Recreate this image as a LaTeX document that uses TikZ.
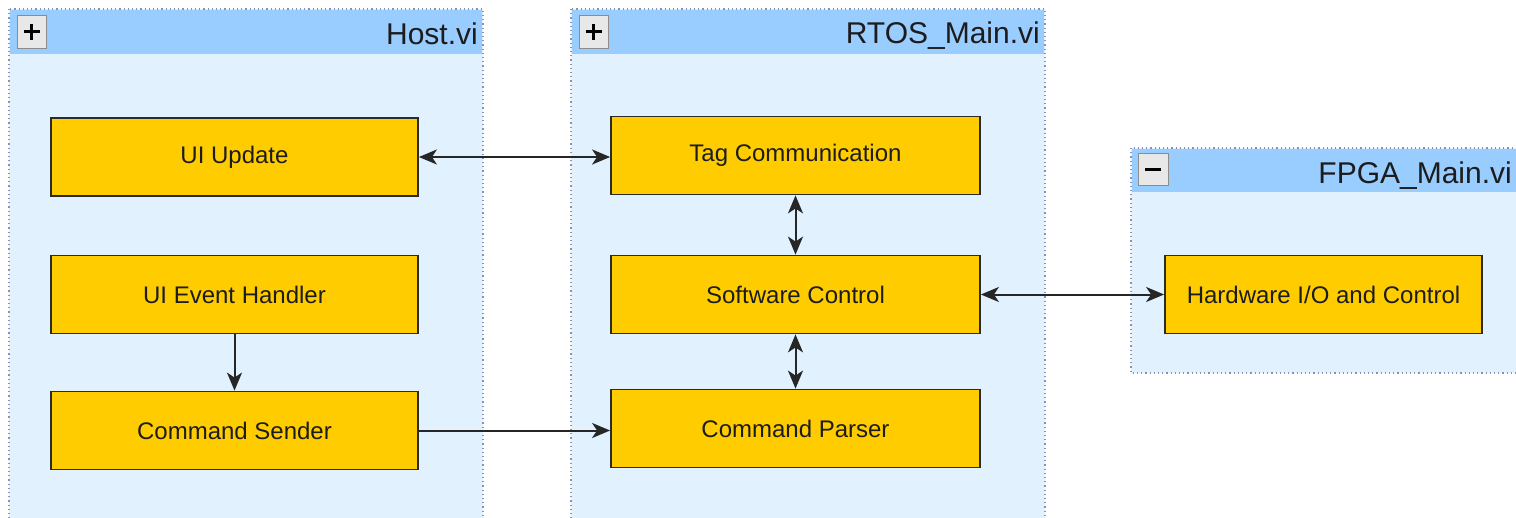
\documentclass[tikz,border=0pt]{standalone}
\usepackage{fontspec}
\setmainfont{Liberation Sans}
\usetikzlibrary{arrows.meta}

\definecolor{laneblue}{HTML}{E1F1FE}
\definecolor{headblue}{HTML}{99CCFF}
\definecolor{laneedge}{HTML}{8A90B4}
\definecolor{blockfill}{HTML}{FFCC00}
\definecolor{blockedge}{HTML}{2B2B2B}
\definecolor{inktext}{HTML}{1C1C1C}
\definecolor{btnfill}{HTML}{E8E8E8}
\definecolor{btnedge}{HTML}{8C8C8C}

\begin{document}
\begin{tikzpicture}[x=1pt,y=-1pt,
  lane/.style={fill=laneblue, draw=laneedge, line width=1.2pt, dash pattern=on 1.2pt off 3pt},
  lanehead/.style={fill=headblue, draw=none},
  lanetitle/.style={anchor=base east, inner sep=0pt, text=inktext, font=\fontsize{30}{34}\selectfont},
  btn/.style={fill=btnfill, draw=btnedge, line width=1pt},
  block/.style={rectangle, fill=blockfill, draw=blockedge, line width=1.8pt,
    minimum width=367pt, minimum height=78pt, inner sep=0pt, text=inktext,
    font=\fontsize{24}{28}\selectfont},
  tip/.style={Stealth[length=18pt, width=15pt, inset=5pt]},
  conn/.style={line width=2pt, draw=black!85, arrows={-Stealth[length=18pt, width=15pt, inset=5pt]}},
  bidir/.style={line width=2pt, draw=black!85, arrows={Stealth[length=18pt, width=15pt, inset=5pt]-Stealth[length=18pt, width=15pt, inset=5pt]}}
]
\useasboundingbox (0,0) rectangle (1516,517);
\clip (0,0) rectangle (1516,517);

% swimlane containers
\draw[lane] (9,9) rectangle (483,540);
\fill[lanehead] (10,10) rectangle (482,54);
\draw[lane] (571,9) rectangle (1045,540);
\fill[lanehead] (572,10) rectangle (1044,54);
\draw[lane] (1131,148) rectangle (1540,373);
\fill[lanehead] (1132,149) rectangle (1540,192);

% collapse / expand buttons
\draw[btn] (17,15) rectangle (46,48);
\draw[line width=3pt] (23.5,31.5) -- (39.5,31.5) (31.5,23.5) -- (31.5,39.5);
\draw[btn] (579,15) rectangle (608,48);
\draw[line width=3pt] (585.5,31.5) -- (601.5,31.5) (593.5,23.5) -- (593.5,39.5);
\draw[btn] (1138,153) rectangle (1168,185);
\draw[line width=3pt] (1145,169) -- (1161,169);

% lane titles
\node[lanetitle] (hosttitle) at (478,44.5) {Host.vi};
\node[lanetitle] (rtostitle) at (1040,43.5) {RTOS\_Main.vi};
\node[lanetitle] (fpgatitle) at (1512,183) {FPGA\_Main.vi};

% Host.vi blocks
\node[block] (uiupd) at (234.5,157) {UI Update};
\node[block] (uievt) at (234.5,294.5) {UI Event Handler};
\node[block] (cmdsnd) at (234.5,430.5) {Command Sender};

% RTOS_Main.vi blocks
\node[block, minimum width=369pt] (tagcom) at (795.5,155.5) {Tag Communication};
\node[block, minimum width=369pt] (swctl) at (795.5,294.5) {Software Control};
\node[block, minimum width=369pt] (cmdpar) at (795.5,428.5) {Command Parser};

% FPGA_Main.vi block
\node[block, minimum width=317pt] (hwio) at (1323.5,294.5) {Hardware I/O and Control};

% connectors
\draw[bidir] (uiupd.east) -- (uiupd.east -| tagcom.west);
\draw[bidir] (tagcom) -- (swctl);
\draw[bidir] (swctl) -- (cmdpar);
\draw[bidir] (swctl) -- (hwio);
\draw[conn] (uievt) -- (cmdsnd);
\draw[conn] (cmdsnd.east) -- (cmdsnd.east -| cmdpar.west);
\end{tikzpicture}
\end{document}
